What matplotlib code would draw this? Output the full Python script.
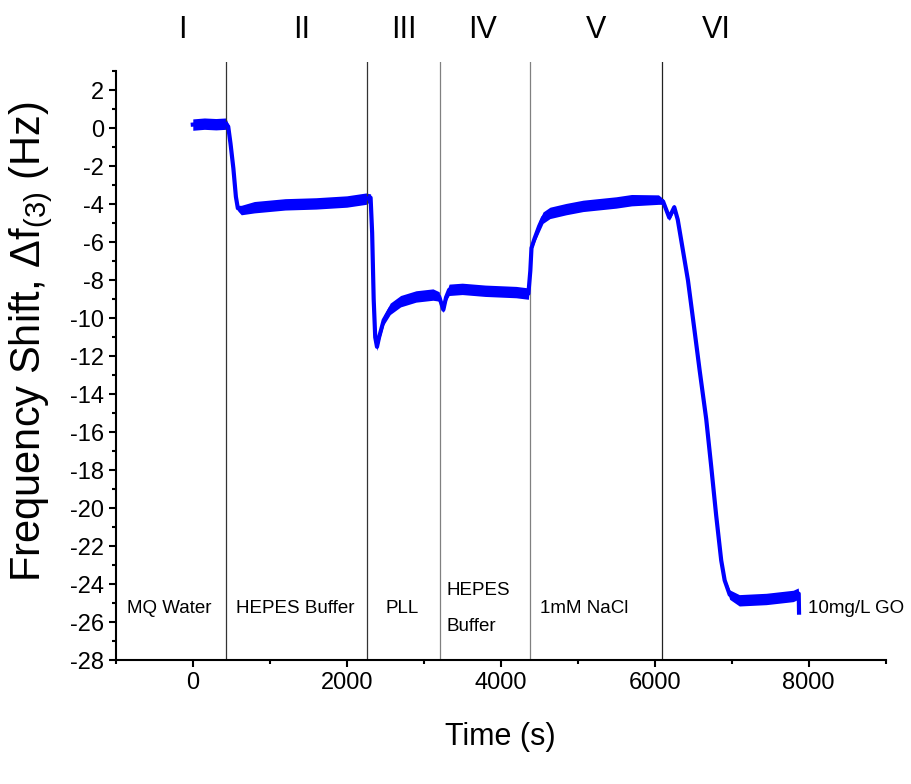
import matplotlib
matplotlib.use('Agg')
import matplotlib.pyplot as plt
import numpy as np
from matplotlib.ticker import MultipleLocator

plt.rcParams['font.family'] = ['Liberation Sans', 'DejaVu Sans']
plt.rcParams['mathtext.fontset'] = 'custom'
plt.rcParams['mathtext.rm'] = 'Liberation Sans'
plt.rcParams['axes.unicode_minus'] = False

# QCM-D trace, 3rd overtone
time_s = [0, 150, 300, 430, 460, 490, 527, 560, 585, 630, 800, 1200, 1600, 2000,
          2250, 2310, 2330, 2350, 2370, 2393, 2420, 2480, 2565, 2700, 2900, 3120,
          3200, 3255, 3290, 3330, 3500, 3800, 4200, 4360, 4385, 4400, 4440, 4500,
          4550, 4640, 4850, 5070, 5500, 5700, 6050, 6110, 6190, 6255, 6300, 6350,
          6433, 6520, 6585, 6670, 6735, 6800, 6865, 6910, 6975, 7100, 7450, 7800,
          7865, 7872, 7876]
shift_hz = [0.2, 0.25, 0.22, 0.25, 0.1, -0.8, -2.1, -3.6, -4.2, -4.3, -4.15, -4.0,
            -3.95, -3.85, -3.7, -3.65, -5.5, -9.0, -11.0, -11.5, -11.0, -10.1, -9.5,
            -9.1, -8.85, -8.75, -8.85, -9.55, -8.9, -8.5, -8.45, -8.55, -8.62, -8.7,
            -7.5, -6.3, -5.8, -5.15, -4.7, -4.45, -4.25, -4.08, -3.9, -3.78, -3.75,
            -3.85, -4.7, -4.15, -4.8, -6.0, -8.0, -10.7, -12.75, -15.3, -17.8, -20.4,
            -22.75, -23.8, -24.55, -24.85, -24.78, -24.62, -24.5, -24.5, -25.5]
# half width of the noise band
noise_hz = [0.3, 0.3, 0.3, 0.3, 0.15, 0.1, 0.1, 0.1, 0.15, 0.25, 0.3, 0.3, 0.3, 0.3,
            0.3, 0.2, 0.1, 0.1, 0.15, 0.2, 0.2, 0.25, 0.3, 0.3, 0.3, 0.3, 0.25, 0.15,
            0.2, 0.3, 0.3, 0.3, 0.3, 0.3, 0.15, 0.15, 0.2, 0.3, 0.3, 0.3, 0.3, 0.3,
            0.3, 0.3, 0.25, 0.15, 0.15, 0.15, 0.1, 0.1, 0.1, 0.1, 0.1, 0.1, 0.1, 0.1,
            0.1, 0.15, 0.25, 0.3, 0.3, 0.3, 0.3, 0.05, 0.05]

# stage boundaries (s)
boundaries = [435, 2265, 3210, 4375, 6095]
boundary_colors = ['#333333', '#333333', '#808080', '#808080', '#222222']

stage_names = ['I', 'II', 'III', 'IV', 'V', 'VI']
stage_x = [-140, 1420, 2745, 3770, 5240, 6800]

solutions = ['MQ Water', 'HEPES Buffer', 'PLL', '1mM NaCl']
solution_x = [-310, 1330, 2720, 5080]

t = np.array(time_s)
f = np.array(shift_hz)
hw = np.array(noise_hz)

fig = plt.figure(figsize=(9.12, 7.84), dpi=100)
ax = fig.add_axes([0.127, 0.158, 0.844, 0.763])

ax.fill_between(t, f - hw, f + hw, color='#0000ff', lw=0)
ax.plot(t, f, color='#0000ff', lw=3)

for xb, c in zip(boundaries, boundary_colors):
    ax.plot([xb, xb], [-28, 3.5], color=c, lw=0.9, zorder=1)

ax.set_xlim(-1000, 9000)
ax.set_ylim(-28, 3.5)
ax.spines['top'].set_visible(False)
ax.spines['right'].set_visible(False)
ax.spines['left'].set_bounds(-28, 3)
ax.spines['left'].set_linewidth(1.5)
ax.spines['bottom'].set_linewidth(1.5)

ax.xaxis.set_major_locator(MultipleLocator(2000))
ax.xaxis.set_minor_locator(MultipleLocator(1000))
ax.yaxis.set_minor_locator(MultipleLocator(1))
ax.set_yticks(np.arange(-28, 3, 2))
ax.tick_params(which='major', length=5, width=1.5, labelsize=17, direction='out')
ax.tick_params(which='minor', length=3, width=1.5, direction='out')

for name, xs in zip(stage_names, stage_x):
    ax.text(xs, 5.2, name, fontsize=22, ha='center', va='center', clip_on=False)

for name, xs in zip(solutions, solution_x):
    ax.text(xs, -25.3, name, fontsize=13.5, ha='center', va='center')
ax.text(3300, -24.35, 'HEPES', fontsize=13.5, ha='left', va='center')
ax.text(3300, -26.25, 'Buffer', fontsize=13.5, ha='left', va='center')
ax.text(7990, -25.3, '10mg/L GO', fontsize=13.5, ha='left', va='center', clip_on=False)

ax.set_xlabel('Time (s)', fontsize=22, labelpad=20)
fig.text(31 / 912, 1 - 342 / 784, r'Frequency Shift, Δf$_{\mathregular{(3)}}$ (Hz)',
         fontsize=30, rotation=90, ha='center', va='center')

plt.savefig('out.png', dpi=100)
